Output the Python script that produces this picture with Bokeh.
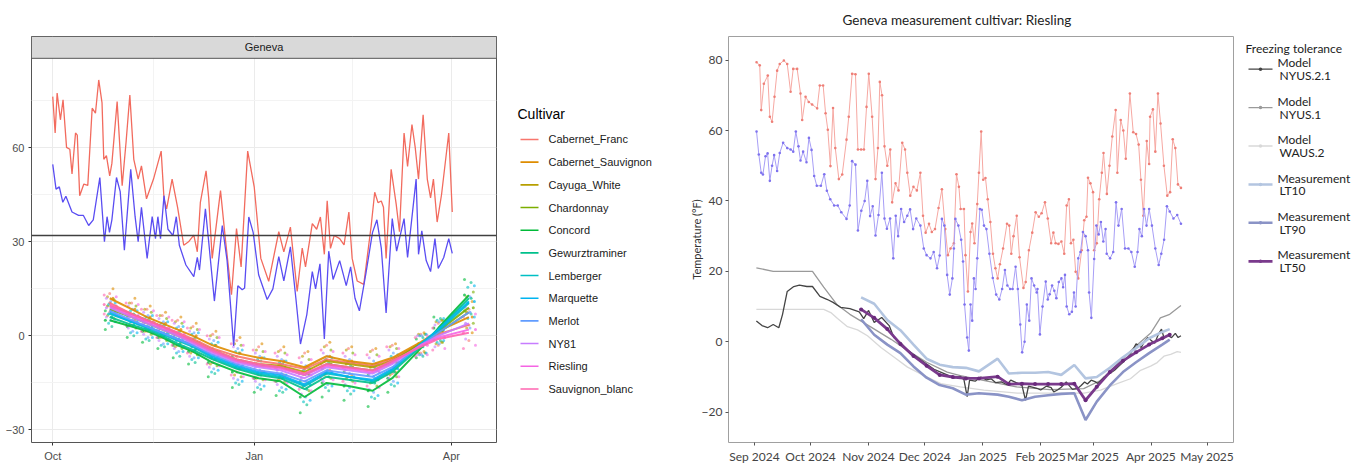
from bokeh.plotting import figure
from bokeh.models import FixedTicker, Range1d, Span
from bokeh.layouts import row
from bokeh.embed import file_html
from bokeh.resources import INLINE
from bokeh.core.properties import value

# ================= LEFT PANEL: Geneva, all cultivars (x = days since 2024-10-01) =================
geneva_tmax = [(0, 76.3), (1.1, 64.7), (2, 77.4), (3.5, 68.9), (4.7, 75.3), (6.3, 60.1), (7.8, 59.5), (8.8, 51.6),
               (10.4, 64.7), (11.2, 64.0), (12.3, 44.7), (14.2, 48.4), (16, 48.0), (18, 72.6), (19.5, 71.0), (21, 81.6),
               (22.5, 74.3), (23.3, 56.3), (24.5, 57.5), (26, 51.0), (27, 55.0), (29.4, 74.7), (31.7, 47.9), (33.5, 62.0),
               (35.2, 76.8), (37, 56.3), (39, 50.0), (40.5, 54.2), (42.8, 43.7), (46, 50.0), (49.5, 58.9), (50.8, 43.7),
               (52, 40.5), (54.5, 50.0), (57, 41.0), (59.8, 28.9), (62, 30.0), (64.4, 32.1), (66, 26.8), (67.4, 42.6),
               (70, 52.6), (71.2, 44.0), (72.8, 24.7), (76.6, 46.3), (78.9, 30.3), (81.6, 13.1), (83.9, 34.2), (86, 22.0),
               (89, 58.9), (92, 47.4), (95, 24.7), (98.6, 17.4), (103.2, 33.2), (105.5, 26.8), (108.5, 34.7), (111.6, 14.2),
               (113.9, 28.0), (115.4, 22.0), (118.5, 35.8), (120.5, 34.0), (122.2, 37.9), (124, 26.0), (125.3, 43.1),
               (126.8, 27.9), (128.5, 32.0), (131, 31.0), (133, 29.0), (135.2, 39.5), (136.7, 24.7), (139, 17.5),
               (142, 16.4), (145.4, 35.2), (147, 45.8), (148.5, 42.5), (150, 43.0), (151, 41.0), (152.2, 24.7),
               (154.5, 53.1), (156.8, 42.0), (158.3, 33.2), (160.4, 64.7), (162, 54.0), (164, 67.4), (165.5, 60.0),
               (167, 50.0), (169.1, 70.5), (171, 50.0), (172.5, 44.0), (173.8, 50.0), (175.5, 36.3), (177.5, 45.0),
               (180.8, 64.7), (182.4, 39.5)]
geneva_tmin = [(0, 54.7), (1.5, 46.8), (3, 47.5), (4.6, 42.6), (6, 44.5), (8.8, 39.5), (11.8, 38.4), (14, 38.4),
               (16.4, 35.2), (18.5, 37.0), (21.5, 50.5), (23.6, 30.0), (24.8, 38.0), (25.9, 33.0), (27, 37.0), (29.1, 50.5),
               (30.8, 46.0), (32.7, 27.3), (35.6, 53.1), (37.6, 38.0), (39, 30.0), (40.5, 41.0), (43.1, 24.7), (45.4, 38.0),
               (46.9, 31.0), (48, 38.0), (49.2, 31.0), (50.8, 44.7), (52.6, 34.0), (54.9, 32.0), (56.4, 38.0), (57.8, 28.9),
               (60.8, 22.6), (64.4, 18.9), (66, 25.0), (67, 21.0), (69.7, 40.5), (71.2, 30.0), (73.8, 11.1), (77.4, 35.2),
               (79.6, 24.0), (82.6, -3.2), (84.5, 16.0), (86.5, 14.7), (87.6, 15.3), (89.5, 37.9), (91.5, 33.0), (94, 19.5),
               (97.9, 11.6), (100.5, 15.0), (103.2, 25.3), (105.5, 17.5), (108.5, 28.4), (111, 12.0), (113.1, -2.6),
               (116, 6.8), (118.5, 20.5), (120, 15.0), (122, 23.0), (124, -1.0), (126, 27.0), (128, 18.0), (131, 24.0),
               (134, 16.0), (136, 22.0), (138, 12.0), (140, 8.0), (143, 20.0), (146, 33.0), (148, 37.0), (150, 28.0),
               (152.2, 7.3), (155, 37.4), (157, 27.0), (160.4, 37.4), (162, 25.0), (165.9, 50.0), (167, 26.0),
               (168.5, 33.5), (170.5, 24.0), (172.5, 20.5), (174.5, 31.0), (176, 21.5), (178.5, 25.0), (180.8, 31.0),
               (182.4, 26.3)]
freezing_point_f = 32

cultivars = ["Cabernet_Franc", "Cabernet_Sauvignon", "Cayuga_White", "Chardonnay", "Concord", "Gewurztraminer",
             "Lemberger", "Marquette", "Merlot", "NY81", "Riesling", "Sauvignon_blanc"]
cultivar_colors = ["#F8766D", "#DE8C00", "#B79F00", "#7CAE00", "#00BA38", "#00C08B",
                   "#00BFC4", "#00B4F0", "#619CFF", "#C77CFF", "#F564E3", "#FF64B0"]
sample_day = [26, 36, 43, 50, 57, 64, 73, 84, 94, 104, 115, 125, 135, 146, 155, 168, 176, 190]
sample_day_shift = [0.0, 1.5, -1.0, 2.0, -2.0, 1.0, -0.5, 2.5, 0.5, -1.5, 3.0, -2.5]
lt50_by_cultivar = [
    [10.5, 7.0, 5.0, 3.0, 1.0, -1.0, -4.0, -6.5, -8.0, -9.0, -10.5, -7.5, -8.5, -9.5, -7.5, -2.5, 0.5, 3.5],
    [12.0, 8.5, 6.0, 4.0, 2.0, 0.0, -3.0, -5.5, -7.0, -8.0, -10.0, -6.5, -8.0, -9.0, -7.0, -2.0, 1.5, 6.0],
    [9.5, 7.0, 5.0, 3.0, 0.5, -1.5, -4.5, -7.5, -9.0, -9.5, -11.5, -8.0, -9.0, -10.0, -8.0, -2.5, 1.0, 7.5],
    [8.5, 6.0, 4.0, 2.0, 0.0, -2.0, -5.0, -8.0, -9.5, -10.0, -12.5, -9.0, -10.0, -11.0, -8.5, -2.5, 1.5, 9.0],
    [5.0, 3.0, 1.5, -0.5, -3.0, -5.0, -8.5, -11.5, -13.5, -14.5, -19.5, -15.0, -16.0, -17.5, -13.5, -4.0, 2.5, 13.0],
    [6.0, 3.5, 2.0, 0.0, -2.5, -4.5, -7.5, -10.5, -12.5, -13.5, -17.0, -13.0, -14.0, -15.0, -11.5, -3.5, 2.0, 12.0],
    [7.0, 4.5, 2.5, 0.5, -1.5, -3.5, -7.0, -10.0, -12.0, -13.0, -16.0, -12.0, -13.0, -14.5, -11.0, -3.0, 1.5, 10.5],
    [7.5, 4.5, 3.0, 1.0, -1.0, -3.0, -6.5, -9.5, -11.5, -12.5, -15.5, -11.5, -13.0, -14.0, -10.5, -2.5, 2.0, 11.0],
    [8.0, 5.0, 3.0, 1.0, -1.0, -3.0, -6.0, -9.0, -11.0, -12.0, -14.5, -11.0, -12.0, -13.0, -10.0, -3.0, 1.0, 7.5],
    [9.0, 6.0, 4.0, 2.0, 0.0, -2.5, -5.5, -8.5, -10.0, -11.0, -13.5, -10.0, -11.0, -12.0, -9.0, -3.0, 0.0, 4.0],
    [9.5, 6.5, 4.5, 2.5, 0.5, -2.0, -5.0, -8.0, -9.5, -10.5, -12.5, -9.5, -10.5, -11.5, -8.5, -3.0, -0.5, 2.0],
    [10.0, 7.0, 5.0, 3.0, 1.0, -1.5, -4.5, -7.5, -9.0, -10.0, -12.0, -9.0, -10.0, -11.0, -8.0, -3.5, -1.0, 1.0],
]
lt_half_range = [3.0, 3.5, 3.5, 3.5, 4.0, 4.0, 4.5, 5.0, 4.5, 4.5, 5.0, 4.5, 4.5, 5.0, 4.5, 3.0, 3.5, 5.0]
left_tick_days = [0, 92, 182]
left_tick_labels = ["Oct", "Jan", "Apr"]
left_minor_days = [46, 137]

# ================= RIGHT PANEL: Riesling (x = days since 2024-09-01) =================
riesling_tmax = [(1.1, 79.4), (2.8, 78.5), (3.6, 65.8), (5.0, 73.3), (7.1, 75.6), (8.2, 63.9), (9.4, 62.5), (10.7, 69.6),
                 (12.1, 77.0), (13.5, 78.9), (15.7, 79.9), (17.5, 78.9), (19.3, 71.0), (20.7, 77.5), (22.8, 77.5),
                 (24.6, 70.5), (25.5, 63.0), (27.3, 69.6), (29.0, 68.1), (30.8, 67.4), (33.5, 66.3), (34.9, 72.8),
                 (36.7, 72.8), (38.0, 64.9), (39.2, 60.2), (40.6, 49.9), (42.0, 66.4), (43.2, 55.0), (45.1, 46.2),
                 (46.9, 47.5), (49.2, 57.4), (50.4, 63.9), (52.2, 76.1), (54.0, 76.0), (55.3, 54.6), (57.0, 54.6),
                 (58.5, 54.6), (59.9, 66.7), (61.1, 76.1), (62.9, 63.9), (64.7, 46.2), (66.0, 55.0), (67.0, 73.8),
                 (68.2, 70.0), (69.5, 55.5), (71.0, 50.0), (72.6, 54.6), (73.6, 39.6), (75.4, 45.0), (77.0, 43.0),
                 (79.0, 56.5), (80.5, 54.6), (81.7, 48.0), (83.3, 41.5), (85.0, 44.0), (86.8, 43.0), (88.7, 48.0),
                 (90.1, 35.8), (91.5, 31.0), (93.3, 33.5), (94.8, 31.2), (96.5, 32.0), (98.4, 38.0), (100.2, 43.3),
                 (102.0, 32.0), (103.4, 24.6), (104.8, 26.5), (106.6, 28.0), (108.0, 47.6), (109.3, 44.0), (110.2, 37.7),
                 (112.0, 37.7), (112.8, 24.6), (114.1, 14.3), (115.5, 31.2), (116.4, 33.6), (117.6, 28.0), (119.1, 39.1),
                 (120.0, 48.0), (121.2, 59.7), (122.3, 46.0), (123.5, 46.5), (124.7, 40.5), (126.1, 34.0), (127.5, 25.0),
                 (128.8, 20.9), (130.0, 18.0), (131.2, 22.0), (132.9, 26.5), (135.0, 33.5), (136.2, 33.0), (137.3, 25.0),
                 (138.5, 30.0), (140.2, 35.8), (141.7, 24.0), (143.8, 15.3), (145.0, 17.0), (146.7, 26.0), (148.5, 31.0),
                 (150.3, 36.8), (152.0, 35.5), (153.5, 36.5), (155.3, 39.6), (156.8, 35.0), (158.6, 28.0), (159.8, 31.0),
                 (161.0, 28.0), (162.5, 27.8), (164.1, 28.5), (165.6, 25.0), (166.9, 38.7), (168.1, 40.5), (169.2, 28.0),
                 (170.5, 29.0), (171.7, 19.9), (173.1, 18.0), (174.9, 26.0), (176.3, 34.5), (177.5, 35.5), (178.3, 46.6),
                 (179.6, 45.0), (181.0, 42.5), (181.6, 26.0), (183.0, 28.0), (184.3, 40.5), (185.7, 48.0), (186.6, 53.6),
                 (188.4, 42.0), (189.8, 50.0), (191.3, 58.3), (193.1, 65.8), (194.0, 48.0), (195.8, 63.0), (197.2, 60.0),
                 (198.5, 52.0), (200.7, 70.5), (202.5, 59.5), (204.0, 59.0), (205.4, 56.0), (206.6, 46.0), (207.9, 35.8),
                 (209.7, 57.0), (211.0, 50.5), (211.5, 63.9), (213.0, 66.0), (214.3, 54.0), (215.7, 70.5), (217.1, 62.0),
                 (218.9, 50.0), (220.7, 41.5), (222.2, 42.5), (223.6, 57.5), (225.0, 55.0), (226.4, 44.7), (228.0, 43.7)]
riesling_tmin = [(1.1, 59.7), (2.3, 53.2), (3.6, 48.0), (4.5, 47.5), (5.9, 52.7), (7.0, 53.5), (8.2, 45.7), (9.4, 50.0),
                 (10.5, 53.0), (12.1, 48.5), (13.5, 53.6), (15.3, 56.5), (17.5, 55.0), (19.3, 54.6), (20.7, 54.0),
                 (22.1, 59.7), (23.5, 55.5), (24.6, 51.5), (26.0, 54.0), (27.8, 51.0), (29.1, 57.9), (30.5, 54.5),
                 (31.9, 47.1), (33.3, 44.3), (35.5, 44.3), (37.3, 47.6), (38.7, 42.9), (40.5, 40.5), (42.6, 38.7),
                 (44.5, 38.7), (46.4, 36.8), (49.2, 34.9), (50.9, 38.7), (52.2, 51.3), (54.0, 50.3), (55.3, 31.6),
                 (57.1, 37.2), (58.9, 40.0), (60.3, 45.7), (61.8, 35.7), (63.2, 38.5), (64.7, 30.2), (66.3, 36.0),
                 (68.1, 48.0), (69.5, 35.0), (70.8, 32.1), (72.5, 35.0), (74.2, 23.7), (75.5, 35.8), (76.8, 30.0),
                 (78.4, 37.7), (80.0, 34.0), (81.7, 35.8), (83.2, 37.6), (84.8, 32.0), (86.5, 35.0), (88.7, 33.0),
                 (90.5, 26.5), (92.0, 24.6), (94.1, 23.7), (95.8, 25.5), (97.6, 20.9), (99.0, 24.5), (100.2, 34.9),
                 (101.5, 33.0), (103.0, 19.0), (104.4, 13.4), (105.8, 18.0), (106.6, 26.5), (107.4, 34.9), (109.0, 33.0),
                 (110.5, 29.0), (111.5, 22.8), (112.3, 10.6), (113.7, 1.2), (114.6, -2.5), (115.5, 10.6), (116.4, 6.0),
                 (117.3, 18.0), (118.2, 15.0), (119.1, 23.7), (120.5, 37.7), (121.5, 37.5), (122.7, 33.0), (124.0, 32.0),
                 (125.6, 25.0), (127.4, 18.1), (129.2, 13.4), (130.9, 12.0), (132.4, 15.0), (133.9, 20.4), (135.2, 16.0),
                 (136.7, 15.0), (138.0, 15.0), (139.6, 21.3), (140.8, 15.0), (142.1, 4.9), (143.1, -3.0), (144.4, 0.0),
                 (145.6, 10.6), (146.9, 6.0), (148.1, 18.0), (149.5, 16.0), (150.9, 14.0), (151.3, 15.0), (152.6, 2.1),
                 (154.0, 10.0), (155.7, 17.1), (156.8, 12.0), (157.8, 13.5), (159.1, 16.0), (160.3, 14.5), (161.4, 12.4),
                 (162.7, 17.0), (164.1, 18.0), (165.0, 15.5), (166.0, 19.0), (166.9, 10.0), (168.3, 7.8), (169.7, 8.5),
                 (170.8, 14.0), (171.7, 10.0), (173.1, 23.7), (174.3, 25.5), (175.6, 31.2), (177.0, 30.0), (178.3, 26.0),
                 (178.9, 14.0), (180.1, 6.8), (181.6, 23.5), (182.8, 33.0), (184.0, 30.5), (185.2, 34.0), (186.5, 28.5),
                 (187.7, 32.0), (188.3, 25.0), (190.1, 23.7), (191.8, 25.5), (193.3, 39.6), (194.6, 33.0), (196.3, 37.7),
                 (198.1, 26.5), (199.9, 26.5), (201.5, 25.5), (203.3, 21.3), (204.8, 25.5), (205.8, 32.0), (207.1, 30.0),
                 (208.3, 37.7), (209.6, 33.0), (211.0, 37.7), (212.5, 33.0), (214.3, 26.5), (216.1, 21.8), (217.5, 25.0),
                 (219.0, 29.0), (220.5, 38.5), (222.0, 37.0), (224.0, 35.0), (226.0, 36.0), (228.0, 33.5)]
model_nyus21 = [(1, 5.9), (4, 4.6), (7, 4.0), (10, 4.9), (13, 4.0), (15, 7.8), (17.5, 14.3), (21, 15.7), (24, 16.1),
                (28, 15.7), (31, 15.7), (35, 12.9), (39, 12.0), (42, 11.2), (46, 9.8), (51, 9.4), (56, 8.5), (58.4, 6.6),
                (61, 8.9), (64, 5.5), (68, 6.9), (72, 4.6), (74.5, 1.2), (78, -0.2), (82, -2.5), (87, -4.4), (92, -6.3),
                (96, -7.8), (99.5, -8.6), (103, -9.4), (106.6, -10.3), (110, -9.8), (112, -10.8), (113.7, -15.6),
                (115, -10.9), (118, -11.2), (121, -10.0), (124, -10.8), (126.5, -10.5), (129, -11.6), (132, -11.4),
                (135, -12.2), (137, -10.9), (140.8, -11.8), (143, -12.4), (144.9, -16.6), (146.5, -12.6), (148, -12.8),
                (151, -13.2), (153, -13.7), (156, -12.6), (158.6, -13.0), (160, -14.2), (162, -13.7), (164, -12.9),
                (166.7, -11.4), (168.5, -12.6), (170, -13.5), (172.9, -13.2), (174.5, -12.5), (176.5, -11.4),
                (178, -12.0), (180, -10.9), (182, -11.3), (183.6, -11.8), (187, -10.0), (190, -9.0), (192.5, -8.1),
                (195, -6.8), (198, -5.3), (201, -3.5), (204, -0.6), (206.8, -1.6), (208.5, 0.2), (210.4, 1.2),
                (212, 0.4), (214, -0.4), (216, 2.2), (217.6, 3.6), (219, 1.0), (221, 1.8), (223, 1.2), (225, 2.4),
                (226.5, 1.2), (228, 1.7)]
model_nyus1 = [(1, 21.0), (10, 20.0), (31, 20.0), (37, 15.5), (44, 10.6), (51, 7.8), (61, 4.6), (73, 0.7), (82, -2.5),
               (92, -5.8), (103, -8.6), (110, -9.6), (123, -11.0), (140, -12.8), (158, -13.6), (176, -13.3),
               (185, -11.0), (194, -6.3), (203, -1.6), (212, 2.6), (217, 6.8), (222, 7.8), (228, 10.3)]
model_waus2 = [(1, 9.2), (37, 9.2), (40.8, 8.3), (44.4, 6.6), (49.7, 4.3), (55.1, 3.4), (60.4, 1.7), (67.6, -1.6),
               (74.7, -4.4), (81.8, -7.2), (90.7, -9.6), (99.6, -11.9), (110, -12.8), (122.6, -13.7), (140.5, -14.6),
               (158.3, -14.6), (176.1, -14.6), (185, -13.7), (193.9, -11.9), (201, -10.5), (206.4, -8.1),
               (211.8, -6.9), (215.3, -5.9), (218.9, -4.1), (222.5, -3.6), (226, -2.8), (228, -3.0)]
lt_measure_day = [57, 64, 71, 78, 85, 92, 99, 106, 113, 120, 130, 136, 143, 150, 157, 164, 171, 177, 183, 190, 197,
                  204, 211, 218, 222]
lt10_riesling = [12.6, 10.8, 6.2, 3.3, -0.8, -4.8, -6.5, -7.2, -7.4, -8.4, -4.8, -9.0, -8.8, -8.8, -8.6, -9.4, -6.6,
                 -10.4, -10.0, -7.4, -4.4, -1.8, 1.0, 2.8, 3.6]
lt90_riesling = [6.4, 2.0, -0.8, -3.2, -7.0, -10.2, -12.3, -13.2, -15.0, -14.6, -15.0, -15.6, -16.6, -15.6, -15.2,
                 -14.8, -14.6, -22.2, -17.0, -12.4, -8.6, -5.8, -3.2, -0.8, 0.6]
lt50_riesling = [9.2, 6.8, 3.6, -0.6, -4.0, -6.8, -9.4, -10.0, -10.4, -10.4, -9.9, -12.0, -11.9, -12.0, -12.0, -12.0,
                 -11.9, -16.6, -12.8, -8.6, -5.4, -3.0, -0.8, 1.0, 2.0]
right_tick_days = [0, 30, 61, 91, 122, 153, 181, 212, 242]
right_tick_labels = ["Sep 2024", "Oct 2024", "Nov 2024", "Dec 2024", "Jan 2025", "Feb 2025", "Mar 2025",
                     "Apr 2025", "May 2025"]

legend_right_labels = [("Model", "NYUS.2.1"), ("Model", "NYUS.1"), ("Model", "WAUS.2"),
                       ("Measurement", "LT10"), ("Measurement", "LT90"), ("Measurement", "LT50")]
legend_right_colors = ["#444444", "#9a9a9a", "#d8d8d8", "#b3c5e0", "#8a93c6", "#7a3a8c"]
legend_right_widths = [1.3, 1.3, 1.3, 2.5, 2.5, 2.8]

LFONT = "Liberation Sans"
RFONT = "Lato"
H = 466
TOP = 36      # frame top (px from page top), shared by all figures in the row
BOT = 20      # space under frames


def xs(pairs):
    return [p[0] for p in pairs]


def ys(pairs):
    return [p[1] for p in pairs]


def legend_fig(width):
    f = figure(width=width, height=H, x_range=Range1d(0, width), y_range=Range1d(H - BOT, TOP),
               x_axis_type=None, y_axis_type=None, output_backend="svg", toolbar_location=None,
               min_border_left=0, min_border_right=0, min_border_top=TOP, min_border_bottom=BOT)
    f.outline_line_color = None
    return f


# ---------------- Figure A: left panel ----------------
strip_bottom = 88.5
a_top = 95.46
pA = figure(width=510, height=H, x_range=Range1d(-9.7, 202.6), y_range=Range1d(-34.0, a_top),
            output_backend="svg", toolbar_location=None,
            min_border_left=31, min_border_right=14, min_border_top=TOP, min_border_bottom=BOT)
pA.background_fill_color = "white"
pA.outline_line_color = "#555555"
pA.outline_line_width = 1
pA.xaxis.ticker = FixedTicker(ticks=left_tick_days, minor_ticks=left_minor_days)
pA.xaxis.major_label_overrides = {d: l for d, l in zip(left_tick_days, left_tick_labels)}
pA.yaxis.ticker = FixedTicker(ticks=[-30, 0, 30, 60], minor_ticks=[-15, 15, 45, 75])
for ax in (pA.xaxis, pA.yaxis):
    ax.axis_line_color = None
    ax.major_tick_line_color = "#333333"
    ax.major_tick_out = 3
    ax.major_tick_in = 0
    ax.minor_tick_line_color = None
    ax.major_label_text_font = LFONT
    ax.major_label_text_font_size = "11px"
    ax.major_label_text_color = "#4d4d4d"
    ax.major_label_standoff = 3
pA.xgrid.grid_line_color = "#ebebeb"
pA.ygrid.grid_line_color = "#ebebeb"
pA.xgrid.minor_grid_line_color = "#f3f3f3"
pA.ygrid.minor_grid_line_color = "#f3f3f3"

for ci, (name, col) in enumerate(zip(cultivars, cultivar_colors)):
    lt50 = lt50_by_cultivar[ci]
    px = [d + sample_day_shift[ci] for d in sample_day]
    pA.scatter(px, lt50, size=3, color=col, alpha=0.75, line_color=None)
    pA.scatter(px, [v + h for v, h in zip(lt50, lt_half_range)], size=3, color=col, alpha=0.6, line_color=None)
    pA.scatter(px, [v - h for v, h in zip(lt50, lt_half_range)], size=3, color=col, alpha=0.6, line_color=None)
for ci, col in enumerate(cultivar_colors):
    pA.line(sample_day, lt50_by_cultivar[ci], color=col, line_width=2, alpha=0.9)

pA.line(xs(geneva_tmax), ys(geneva_tmax), color="#F26B5E", line_width=1.3)
pA.line(xs(geneva_tmin), ys(geneva_tmin), color="#5A4DF2", line_width=1.3)
pA.add_layout(Span(location=freezing_point_f, dimension="width", line_color="#404040", line_width=1.3))

pA.quad(left=[-9.7], right=[202.6], bottom=[strip_bottom], top=[a_top], fill_color="#d9d9d9",
        line_color="#555555", line_width=1)
pA.text(x=[(-9.7 + 202.6) / 2], y=[(strip_bottom + a_top) / 2], text=["Geneva"], text_font=value(LFONT),
        text_font_size="11px", text_color="#1a1a1a", text_align="center", text_baseline="middle")

# ---------------- Figure B: left legend (page x 510..680, y in page px) ----------------
pB = legend_fig(170)
pB.text(x=[7], y=[114], text=["Cultivar"], text_font=value(LFONT), text_font_size="14px",
        text_color="#000000", text_baseline="middle")
ky = [140 + 22.9 * i for i in range(len(cultivars))]
pB.segment(x0=[10] * len(ky), y0=ky, x1=[28] * len(ky), y1=ky, color=cultivar_colors, line_width=1.6)
pB.text(x=[38] * len(ky), y=ky, text=cultivars, text_font=value(LFONT), text_font_size="11px",
        text_color="#1a1a1a", text_baseline="middle")

# ---------------- Figure C: right panel ----------------
pC = figure(width=560, height=H, x_range=Range1d(-13.9, 256.1), y_range=Range1d(-28.6, 86.7),
            output_backend="svg", toolbar_location=None,
            min_border_left=48, min_border_right=7, min_border_top=TOP, min_border_bottom=BOT)
pC.title.text = "Geneva measurement cultivar: Riesling"
pC.title.align = "left"
pC.title.offset = 114
pC.title.standoff = 18
pC.title.text_font = RFONT
pC.title.text_font_size = "13.5px"
pC.title.text_font_style = "normal"
pC.title.text_color = "#222222"
pC.grid.visible = False
pC.outline_line_color = "#a0a0a0"
pC.xaxis.ticker = FixedTicker(ticks=right_tick_days)
pC.xaxis.major_label_overrides = {d: l for d, l in zip(right_tick_days, right_tick_labels)}
pC.yaxis.ticker = FixedTicker(ticks=[-20, 0, 20, 40, 60, 80])
pC.yaxis.axis_label = "Temperature (°F)"
pC.yaxis.axis_label_text_font = RFONT
pC.yaxis.axis_label_text_font_size = "11px"
pC.yaxis.axis_label_text_font_style = "normal"
pC.yaxis.axis_label_text_color = "#333333"
pC.yaxis.axis_label_standoff = -4
for ax in (pC.xaxis, pC.yaxis):
    ax.axis_line_color = None
    ax.major_tick_line_color = "#555555"
    ax.major_tick_out = 3
    ax.major_tick_in = 0
    ax.minor_tick_line_color = None
    ax.major_label_text_font = RFONT
    ax.major_label_text_font_size = "12px"
    ax.major_label_text_color = "#444444"
    ax.major_label_standoff = 3

pC.line(xs(riesling_tmax), ys(riesling_tmax), color="#F6A8A2", line_width=1)
pC.scatter(xs(riesling_tmax), ys(riesling_tmax), size=2.6, color="#EE7F77", line_color=None)
pC.line(xs(riesling_tmin), ys(riesling_tmin), color="#A79EF6", line_width=1)
pC.scatter(xs(riesling_tmin), ys(riesling_tmin), size=2.6, color="#7E72EE", line_color=None)

pC.line(xs(model_waus2), ys(model_waus2), color=legend_right_colors[2], line_width=1.3)
pC.line(xs(model_nyus1), ys(model_nyus1), color=legend_right_colors[1], line_width=1.3)
pC.line(xs(model_nyus21), ys(model_nyus21), color=legend_right_colors[0], line_width=1.3)
pC.line(lt_measure_day, lt10_riesling, color=legend_right_colors[3], line_width=2.6)
pC.line(lt_measure_day, lt90_riesling, color=legend_right_colors[4], line_width=2.6)
pC.line(lt_measure_day, lt50_riesling, color=legend_right_colors[5], line_width=2.8)
pC.scatter(lt_measure_day, lt50_riesling, size=4, color="#6a2a7c", line_color=None)

# ---------------- Figure D: right legend (page x 1240..1358) ----------------
pD = legend_fig(118)
pD.text(x=[5], y=[48], text=["Freezing tolerance"], text_font=value(RFONT), text_font_size="12px",
        text_color="#222222", text_baseline="middle")
rky = [69 + 38.8 * i for i in range(len(legend_right_labels))]
for i, yk in enumerate(rky):
    pD.segment(x0=[8], y0=[yk], x1=[32], y1=[yk], color=legend_right_colors[i],
               line_width=legend_right_widths[i])
pD.scatter(x=[20] * len(rky), y=rky, size=3.5, color=legend_right_colors, line_color=None)
pD.text(x=[37] * len(rky), y=[yk - 6.5 for yk in rky], text=[a for a, b in legend_right_labels],
        text_font=value(RFONT), text_font_size="12px", text_color="#222222", text_baseline="middle")
pD.text(x=[39] * len(rky), y=[yk + 6.5 for yk in rky], text=[b for a, b in legend_right_labels],
        text_font=value(RFONT), text_font_size="12px", text_color="#222222", text_baseline="middle")

layout = row(pA, pB, pC, pD)
open("out.html", "w").write(file_html(layout, INLINE))
